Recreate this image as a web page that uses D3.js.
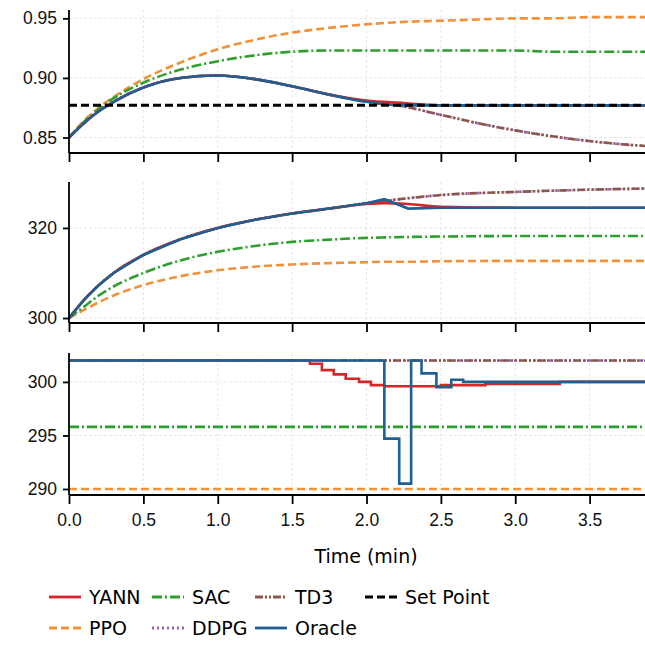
<!DOCTYPE html><html><head><meta charset="utf-8"><script src="https://cdn.jsdelivr.net/npm/d3@7"></script>
<style>body{margin:0;background:#fff}svg{font-family:"DejaVu Sans",sans-serif}</style></head><body><svg id="c" width="645" height="645"></svg><script>
const xTicks=[0,0.5,1,1.5,2,2.5,3,3.5];
const t1=[0,0.1,0.2,0.3,0.5,0.75,1.0,1.25,1.5,1.75,2.0,2.25,2.5,2.75,3.0,3.25,3.5,3.75,4.0];
const c_oracle=[0.85,0.862,0.872,0.880,0.892,0.900,0.902,0.899,0.893,0.886,0.880,0.877,0.877,0.877,0.877,0.877,0.877,0.877,0.877];
const c_yann=[0.85,0.862,0.872,0.880,0.892,0.900,0.902,0.899,0.893,0.886,0.881,0.879,0.877,0.877,0.877,0.877,0.877,0.877,0.877];
const c_td3=[0.85,0.862,0.872,0.880,0.892,0.900,0.902,0.899,0.893,0.886,0.880,0.876,0.869,0.862,0.856,0.851,0.847,0.844,0.842];
const c_ppo=[0.85,0.864,0.875,0.884,0.899,0.913,0.924,0.932,0.938,0.942,0.945,0.947,0.948,0.949,0.950,0.950,0.951,0.951,0.951];
const c_sac=[0.85,0.863,0.874,0.883,0.896,0.907,0.914,0.919,0.922,0.923,0.923,0.923,0.923,0.923,0.923,0.922,0.922,0.922,0.922];
const setPoint=0.877;
const t2=[0,0.1,0.2,0.3,0.5,0.75,1.0,1.25,1.5,1.75,2.0,2.12,2.28,2.5,3.0,3.5,4.0];
const T_oracle=[300,304,307.3,310,314,317.5,320,321.8,323.2,324.3,325.5,326.4,324.3,324.5,324.5,324.5,324.5];
const T_yann=[300,304,307.3,310,314,317.5,320,321.8,323.2,324.3,325.3,325.5,325.3,324.7,324.5,324.5,324.5];
const T_td3=[300,304,307.3,310,314,317.5,320,321.8,323.2,324.3,325.5,326.0,326.6,327.3,328.0,328.5,328.8];
const T_sac=[300,302.5,305,307,310,312.8,314.7,316,316.9,317.4,317.8,317.9,318.0,318.1,318.2,318.2,318.2];
const T_ppo=[300,301.8,303.5,305,307.3,309.3,310.6,311.4,311.9,312.2,312.4,312.5,312.5,312.6,312.7,312.7,312.7];
const to_t=[0,2.12,2.22,2.3,2.37,2.47,2.57,2.65,4.0];
const U_oracle=[302,294.7,290.5,302,300.8,299.5,300.2,300,300];
const ty_t=[0,1.62,1.7,1.78,1.86,1.95,2.03,2.12,2.5,2.8,3.3,4.0];
const U_yann=[302,301.7,301.1,300.7,300.3,300,299.7,299.6,299.7,299.8,300,300];
const U_td3=302,U_sac=295.8,U_ppo=290;
const legend=[["YANN","yann"],["PPO","ppo"],["SAC","sac"],["DDPG","ddpg"],["TD3","td3"],["Oracle","oracle"],["Set Point","sp"]];

const st={yann:{c:"#d62728",d:null},ppo:{c:"#f0923a",d:"8,4"},sac:{c:"#2ca02c",d:"10,3,2,3"},ddpg:{c:"#9467bd",d:"2,3"},td3:{c:"#8c564b",d:"8,2,2,2,2,2"},oracle:{c:"#1f5f91",d:null},sp:{c:"#000",d:"8,4"}};
const svg=d3.select("#c");
const x=d3.scaleLinear().domain([0,4]).range([69,664]);
svg.append("defs").append("clipPath").attr("id","cl").append("rect").attr("x",69).attr("y",0).attr("width",600).attr("height",645);
const panels=[
 {dom:[0.837,0.957],r:[153,10],ticks:[0.85,0.90,0.95],fmt:d3.format(".2f")},
 {dom:[298.9,330.2],r:[323,182],ticks:[300,320],fmt:d3.format("d")},
 {dom:[289.44,302.7],r:[495,353],ticks:[290,295,300],fmt:d3.format("d")}];
panels.forEach(p=>p.y=d3.scaleLinear().domain(p.dom).range(p.r));
function line(p,ts,vs,key,curve){
 const g=svg.append("g").attr("clip-path","url(#cl)");
 g.append("path").attr("d",d3.line().x((d,i)=>x(ts[i])).y(d=>p.y(d)).curve(curve)(vs))
 .attr("fill","none").attr("stroke",st[key].c).attr("stroke-width",key=="sp"?3:2.6).attr("stroke-dasharray",st[key].d);
}
panels.forEach((p,k)=>{
 const g=svg.append("g");
 xTicks.forEach(t=>g.append("line").attr("x1",x(t)).attr("x2",x(t)).attr("y1",p.r[1]).attr("y2",p.r[0]).attr("stroke","#ddd").attr("stroke-width",0.7).attr("stroke-dasharray","3,2"));
 p.ticks.forEach(t=>g.append("line").attr("x1",69).attr("x2",645).attr("y1",p.y(t)).attr("y2",p.y(t)).attr("stroke","#ddd").attr("stroke-width",0.7).attr("stroke-dasharray","3,2"));
});
const c=d3.curveMonotoneX, s=d3.curveStepAfter, P=panels;
line(P[0],t1,c_ppo,"ppo",c);line(P[0],t1,c_sac,"sac",c);line(P[0],t1,c_td3,"ddpg",c);line(P[0],t1,c_td3,"td3",c);
line(P[0],t1,c_yann,"yann",c);line(P[0],t1,c_oracle,"oracle",c);line(P[0],[0,4],[setPoint,setPoint],"sp",d3.curveLinear);
line(P[1],t2,T_ppo,"ppo",c);line(P[1],t2,T_sac,"sac",c);line(P[1],t2,T_td3,"ddpg",c);line(P[1],t2,T_td3,"td3",c);
line(P[1],t2,T_yann,"yann",c);line(P[1],t2,T_oracle,"oracle",d3.curveLinear);
line(P[2],[0,4],[U_ppo,U_ppo],"ppo",s);line(P[2],[0,4],[U_sac,U_sac],"sac",s);line(P[2],[0,4],[U_td3,U_td3],"ddpg",s);line(P[2],[0,4],[U_td3,U_td3],"td3",s);
line(P[2],ty_t,U_yann,"yann",s);line(P[2],to_t,U_oracle,"oracle",s);
panels.forEach((p,k)=>{
 const ax=svg.append("g").attr("transform",`translate(0,${p.r[0]})`).call(d3.axisBottom(x).tickValues(xTicks).tickSize(9).tickPadding(10).tickSizeOuter(0).tickFormat(k==2?d3.format(".1f"):""));
 ax.select(".domain").attr("d",`M69,0H645`);
 const ay=svg.append("g").attr("transform","translate(69,0)").call(d3.axisLeft(p.y).tickValues(p.ticks).tickSize(6).tickPadding(6).tickSizeOuter(0).tickFormat(p.fmt));
 ay.select(".domain").attr("d",`M0,${p.r[1]}V${p.r[0]}`);
 [ax,ay].forEach(a=>{a.selectAll("path,line").attr("stroke","#000").attr("stroke-width",1.8);a.selectAll("text").attr("font-size",17.5).attr("fill","#111");});
});
svg.append("text").attr("x",366).attr("y",563).attr("text-anchor","middle").attr("font-size",19).text("Time (min)");
const cols=[47,150,253,363];
legend.forEach(([n,k],i)=>{
 const cx=cols[Math.floor(i/2)], cy=597+(i%2)*31;
 svg.append("line").attr("x1",cx+2).attr("x2",cx+34).attr("y1",cy).attr("y2",cy).attr("stroke",st[k].c).attr("stroke-width",2.8).attr("stroke-dasharray",st[k].d);
 svg.append("text").attr("x",cx+42).attr("y",cy+7).attr("font-size",19).text(n);
});
</script></body></html>
